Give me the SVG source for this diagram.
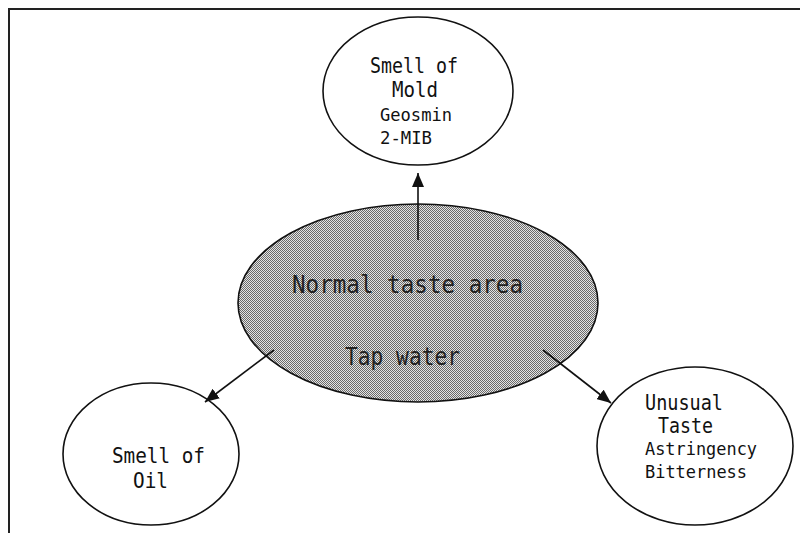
<svg xmlns="http://www.w3.org/2000/svg" width="800" height="533" viewBox="0 0 800 533">
<style>
.node{fill:#fff;stroke:#111;stroke-width:1.6}
.lbl{font-family:"DejaVu Sans Mono","Liberation Mono",monospace;fill:#111}
.big{font-size:22px}
.small{font-size:18px}
.main{font-size:25px;fill:#222}
.conn{stroke:#111;stroke-width:1.6;fill:none}
</style>
<defs>
<pattern id="dots" width="2" height="2" patternUnits="userSpaceOnUse">
<rect width="2" height="2" fill="#e4e4e4"/>
<rect width="1" height="1" fill="#6a6a6a"/>
<rect x="1" y="1" width="1" height="1" fill="#6a6a6a"/>
</pattern>
<marker id="arr" markerUnits="userSpaceOnUse" markerWidth="14" markerHeight="12" refX="14" refY="6" orient="auto">
<path d="M0,0 L14,6 L0,12 z" fill="#111"/>
</marker>
</defs>
<rect width="800" height="533" fill="#fff"/>
<path d="M9,533 L9,9 L800,9" fill="none" stroke="#222" stroke-width="2"/>
<g id="center">
<ellipse cx="418" cy="303" rx="180" ry="99" fill="url(#dots)" stroke="#111" stroke-width="1.6"/>
<text class="lbl main" x="292" y="293" textLength="231" lengthAdjust="spacingAndGlyphs">Normal taste area</text>
<text class="lbl main" x="345" y="365" textLength="115" lengthAdjust="spacingAndGlyphs">Tap water</text>
</g>
<g id="mold">
<ellipse class="node" cx="418" cy="91" rx="95" ry="74"/>
<text class="lbl big" x="370" y="73" textLength="88" lengthAdjust="spacingAndGlyphs">Smell of</text>
<text class="lbl big" x="392" y="97" textLength="46" lengthAdjust="spacingAndGlyphs">Mold</text>
<text class="lbl small" x="380" y="121" textLength="72" lengthAdjust="spacingAndGlyphs">Geosmin</text>
<text class="lbl small" x="380" y="144" textLength="52" lengthAdjust="spacingAndGlyphs">2-MIB</text>
</g>
<g id="oil">
<ellipse class="node" cx="151" cy="454" rx="88" ry="71"/>
<text class="lbl big" x="112" y="463" textLength="93" lengthAdjust="spacingAndGlyphs">Smell of</text>
<text class="lbl big" x="133" y="488" textLength="35" lengthAdjust="spacingAndGlyphs">Oil</text>
</g>
<g id="taste">
<ellipse class="node" cx="695" cy="446" rx="98" ry="79"/>
<text class="lbl big" x="645" y="410" textLength="78" lengthAdjust="spacingAndGlyphs">Unusual</text>
<text class="lbl big" x="658" y="433" textLength="55" lengthAdjust="spacingAndGlyphs">Taste</text>
<text class="lbl small" x="645" y="455" textLength="112" lengthAdjust="spacingAndGlyphs">Astringency</text>
<text class="lbl small" x="645" y="478" textLength="102" lengthAdjust="spacingAndGlyphs">Bitterness</text>
</g>
<g id="connectors">
<line class="conn" x1="418" y1="240" x2="418" y2="173" marker-end="url(#arr)"/>
<line class="conn" x1="274" y1="350" x2="205" y2="402" marker-end="url(#arr)"/>
<line class="conn" x1="543" y1="350" x2="611" y2="403" marker-end="url(#arr)"/>
</g>
</svg>
